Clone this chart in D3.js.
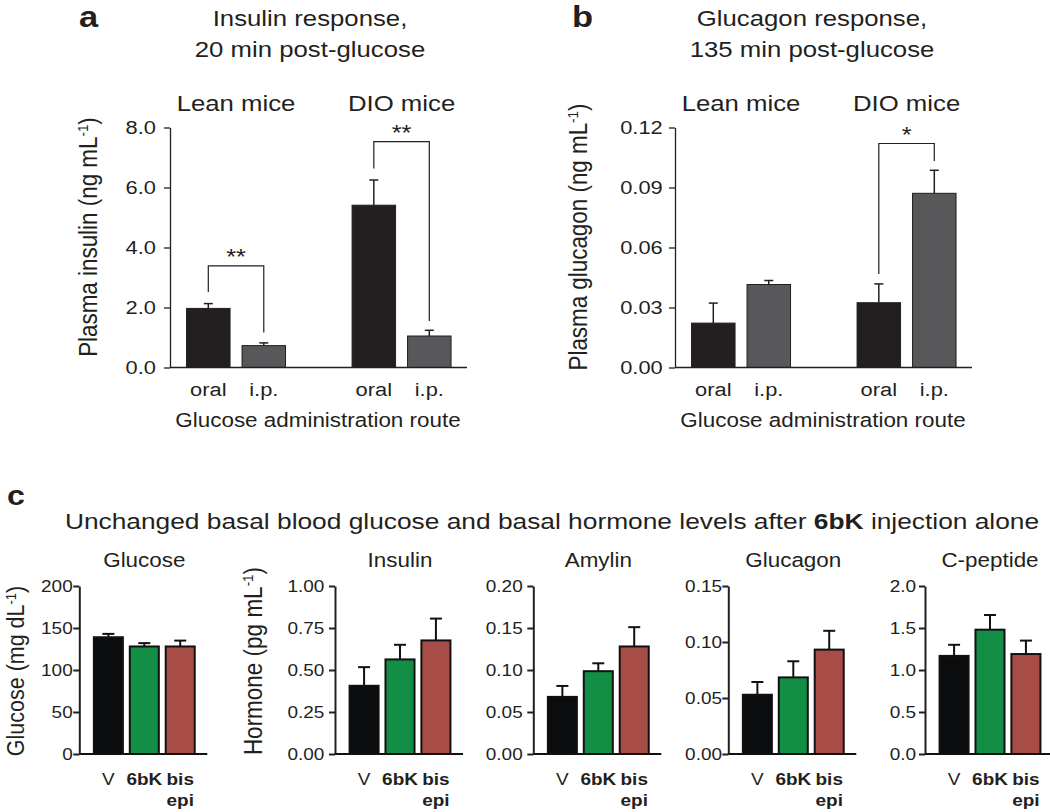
<!DOCTYPE html>
<html><head><meta charset="utf-8">
<script src="https://cdn.jsdelivr.net/npm/d3@7"></script>
<style>
body{margin:0;background:#fff}
text{font-family:"Liberation Sans",Arial,Helvetica,sans-serif;fill:#231f20}
</style>
</head><body>
<svg id="chart" width="1050" height="812"></svg>
<script>
// ---------- data ----------
const groupsAB = ["Lean mice", "DIO mice"];
const routes = ["oral", "i.p."];
const insulinMean = [1.97, 0.73, 5.41, 1.05];
const insulinErr  = [0.16, 0.09, 0.84, 0.19];
const insulinTicks = [0, 2, 4, 6, 8];
const glucagonMean = [0.0222, 0.0415, 0.0324, 0.0871];
const glucagonErr  = [0.0100, 0.0020, 0.0094, 0.0115];
const glucagonTicks = [0, 0.03, 0.06, 0.09, 0.12];
// significance: group, bracket top value, left leg end, right leg end, label
const insulinSig = [
  {group: "Lean mice", top: 3.39, left: 2.52, right: 1.17, label: "**"},
  {group: "DIO mice",  top: 7.53, left: 6.63, right: 1.55, label: "**"}
];
const glucagonSig = [
  {group: "DIO mice", top: 0.112, left: 0.0468, right: 0.1033, label: "*"}
];

const treatments = ["V", "6bK", "bis epi"];
const cGlucoseMean = [139, 128, 128];
const cGlucoseErr  = [4, 4, 7];
const cGlucoseTicks = [0, 50, 100, 150, 200];
const cInsulinMean = [0.406, 0.563, 0.676];
const cInsulinErr  = [0.111, 0.087, 0.130];
const cInsulinTicks = [0, 0.25, 0.5, 0.75, 1.0];
const cAmylinMean = [0.068, 0.0986, 0.128];
const cAmylinErr  = [0.013, 0.0094, 0.023];
const cAmylinTicks = [0, 0.05, 0.10, 0.15, 0.20];
const cGlucagonMean = [0.0529, 0.0684, 0.0932];
const cGlucagonErr  = [0.0114, 0.0144, 0.0168];
const cGlucagonTicks = [0, 0.05, 0.10, 0.15];
const cCpepMean = [1.168, 1.48, 1.19];
const cCpepErr  = [0.132, 0.175, 0.16];
const cCpepTicks = [0, 0.5, 1.0, 1.5, 2.0];

// ---------- helpers ----------
const SX = 1.15;
const ink = "#231f20";
const svg = d3.select("#chart");

function txt(g, x, y, s, size, opts = {}) {
  const t = g.append("text")
    .attr("transform", `translate(${x},${y}) scale(${SX},1)`)
    .attr("text-anchor", opts.anchor || "middle")
    .attr("font-size", size)
    .attr("font-weight", opts.bold ? "bold" : null)
    .text(s);
  return t;
}
function ylab(g, x, y, main, size) {
  const t = g.append("text")
    .attr("transform", `translate(${x},${y}) rotate(-90) scale(1,${SX})`)
    .attr("text-anchor", "middle")
    .attr("font-size", size);
  t.append("tspan").text(main);
  t.append("tspan").attr("font-size", size * 0.6).attr("dy", -size * 0.34).text("-1");
  t.append("tspan").attr("dy", size * 0.34).text(")");
}
function styleAxis(ax, size, offset, lw) {
  ax.select(".domain").attr("stroke", ink).attr("stroke-width", lw);
  ax.selectAll(".tick line").attr("stroke", ink).attr("stroke-width", lw);
  ax.selectAll(".tick text")
    .attr("x", null)
    .attr("transform", `translate(${-offset},0) scale(${SX},1)`)
    .attr("font-size", size)
    .attr("font-family", '"Liberation Sans",Arial,Helvetica,sans-serif')
    .attr("fill", ink);
}

// ---------- panels a & b ----------
function panelAB(o) {
  const g = svg.append("g");
  const x0 = d3.scaleBand().domain(groupsAB).range([o.ax, o.ax + 297.6])
    .paddingInner(0.402).paddingOuter(0.1);
  const x1 = d3.scaleBand().domain(routes).range([0, x0.bandwidth()])
    .paddingInner(0.216).paddingOuter(0);
  const y = d3.scaleLinear().domain([0, o.ticks[o.ticks.length - 1]]).range([367.5, 127.5]);
  const color = {"oral": "#231f20", "i.p.": "#58585a"};
  const rows = o.mean.map((m, i) => ({
    g: groupsAB[Math.floor(i / 2)], r: routes[i % 2], m, e: o.err[i]
  }));
  const cx = d => x0(d.g) + x1(d.r) + x1.bandwidth() / 2;

  rows.forEach(d => {
    g.append("line").attr("x1", cx(d)).attr("x2", cx(d))
      .attr("y1", y(d.m)).attr("y2", y(d.m + d.e)).attr("stroke", ink).attr("stroke-width", 1.5);
    g.append("line").attr("x1", cx(d) - 4.5).attr("x2", cx(d) + 4.5)
      .attr("y1", y(d.m + d.e)).attr("y2", y(d.m + d.e)).attr("stroke", ink).attr("stroke-width", 1.5);
  });
  g.selectAll("rect.bar").data(rows).join("rect")
    .attr("x", d => x0(d.g) + x1(d.r)).attr("width", x1.bandwidth())
    .attr("y", d => y(d.m)).attr("height", d => y(0) - y(d.m))
    .attr("fill", d => color[d.r]).attr("stroke", ink).attr("stroke-width", 1);

  const ax = g.append("g").attr("transform", `translate(${o.ax},0)`)
    .call(d3.axisLeft(y).tickValues(o.ticks).tickFormat(d3.format(o.fmt)).tickSize(6).tickSizeOuter(0));
  styleAxis(ax, 19, o.pad, 1.3);
  g.append("line").attr("x1", o.ax).attr("x2", o.ax + 297).attr("y1", y(0)).attr("y2", y(0))
    .attr("stroke", ink).attr("stroke-width", 1.3);

  rows.forEach(d => txt(g, cx(d), 396, d.r, 19));
  groupsAB.forEach(gr => txt(g, x0(gr) + x0.bandwidth() / 2, 111, gr, 22.4));
  txt(g, o.ax + 148, 427, "Glucose administration route", 19.5);
  txt(g, o.titleX, 26, o.title[0], 22.4);
  txt(g, o.titleX, 57, o.title[1], 22.4);
  txt(g, o.letterX, 27, o.letter, 30, {bold: true, anchor: "start"});
  ylab(g, o.ylabX, 237, o.ylab, 22.4);

  o.sig.forEach(s => {
    const xl = x0(s.group) + x1("oral") + x1.bandwidth() / 2;
    const xr = x0(s.group) + x1("i.p.") + x1.bandwidth() / 2;
    g.append("path")
      .attr("d", `M${xl},${y(s.left)}V${y(s.top)}H${xr}V${y(s.right)}`)
      .attr("fill", "none").attr("stroke", ink).attr("stroke-width", 1.2);
    txt(g, (xl + xr) / 2, y(s.top) - 2, s.label, 22);
  });
}

panelAB({ax: 170, ticks: insulinTicks, fmt: ".1f", pad: 14, mean: insulinMean, err: insulinErr,
  sig: insulinSig, title: ["Insulin response,", "20 min post-glucose"], titleX: 310,
  letter: "a", letterX: 79, ylab: "Plasma insulin (ng mL", ylabX: 96.5});
panelAB({ax: 675, ticks: glucagonTicks, fmt: ".2f", pad: 12.3, mean: glucagonMean, err: glucagonErr,
  sig: glucagonSig, title: ["Glucagon response,", "135 min post-glucose"], titleX: 812,
  letter: "b", letterX: 572, ylab: "Plasma glucagon (ng mL", ylabX: 586.5});

// ---------- panel c ----------
const cg = svg.append("g");
txt(cg, 7, 505, "c", 28, {bold: true, anchor: "start"});
{
  const t = cg.append("text").attr("transform", `translate(552,529) scale(${SX},1)`)
    .attr("text-anchor", "middle").attr("font-size", 22.9);
  t.append("tspan").text("Unchanged basal blood glucose and basal hormone levels after ");
  t.append("tspan").attr("font-weight", "bold").text("6bK");
  t.append("tspan").text(" injection alone");
}
const cColors = ["#0b0c0e", "#138f45", "#a84c48"];

function panelC(o) {
  const g = cg.append("g");
  const x = d3.scaleBand().domain(treatments).range([o.ax + 2, o.ax + 128])
    .paddingInner(0.192).paddingOuter(0.35);
  const y = d3.scaleLinear().domain([0, o.ticks[o.ticks.length - 1]]).range([754, 586]);
  const rows = o.mean.map((m, i) => ({t: treatments[i], m, e: o.err[i], c: cColors[i]}));
  const cx = d => x(d.t) + x.bandwidth() / 2;
  rows.forEach(d => {
    g.append("line").attr("x1", cx(d)).attr("x2", cx(d))
      .attr("y1", y(d.m)).attr("y2", y(d.m + d.e)).attr("stroke", "#111").attr("stroke-width", 2);
    g.append("line").attr("x1", cx(d) - 6).attr("x2", cx(d) + 6)
      .attr("y1", y(d.m + d.e)).attr("y2", y(d.m + d.e)).attr("stroke", "#111").attr("stroke-width", 2);
  });
  g.selectAll("rect").data(rows).join("rect")
    .attr("x", d => x(d.t)).attr("width", x.bandwidth())
    .attr("y", d => y(d.m)).attr("height", d => y(0) - y(d.m))
    .attr("fill", d => d.c).attr("stroke", "#111").attr("stroke-width", 2);
  const ax = g.append("g").attr("transform", `translate(${o.ax},0)`)
    .call(d3.axisLeft(y).tickValues(o.ticks).tickFormat(d3.format(o.fmt)).tickSize(6).tickSizeOuter(0));
  styleAxis(ax, 16.5, o.pad, 2);
  ax.selectAll(".tick text").attr("fill", "#111");
  g.append("line").attr("x1", o.ax).attr("x2", o.ax + 128).attr("y1", y(0)).attr("y2", y(0))
    .attr("stroke", "#111").attr("stroke-width", 2);
  rows.forEach(d => {
    const parts = d.t.split(" ");
    const bold = d.t !== "V";
    parts.forEach((p, k) => txt(g, cx(d), 785 + k * 21, p, 16.5, {bold}));
  });
  txt(g, (o.ax + 2 + o.ax + 128) / 2, 566.7, o.title, 19.5);
  if (o.ylab) ylab(g, o.ylabX, o.ylabY, o.ylab, o.ylabSize || 22.5);
}

panelC({ax: 79.3, ticks: cGlucoseTicks, fmt: "d", pad: 6.6, mean: cGlucoseMean, err: cGlucoseErr,
  title: "Glucose", ylab: "Glucose (mg dL", ylabX: 24, ylabY: 671, ylabSize: 21.5});
panelC({ax: 335, ticks: cInsulinTicks, fmt: ".2f", pad: 10.7, mean: cInsulinMean, err: cInsulinErr,
  title: "Insulin", ylab: "Hormone (pg mL", ylabX: 261.7, ylabY: 661});
panelC({ax: 533.3, ticks: cAmylinTicks, fmt: ".2f", pad: 10.6, mean: cAmylinMean, err: cAmylinErr,
  title: "Amylin"});
panelC({ax: 728.3, ticks: cGlucagonTicks, fmt: ".2f", pad: 6.3, mean: cGlucagonMean, err: cGlucagonErr,
  title: "Glucagon"});
panelC({ax: 925, ticks: cCpepTicks, fmt: ".1f", pad: 9, mean: cCpepMean, err: cCpepErr,
  title: "C-peptide"});
</script>
</body></html>
